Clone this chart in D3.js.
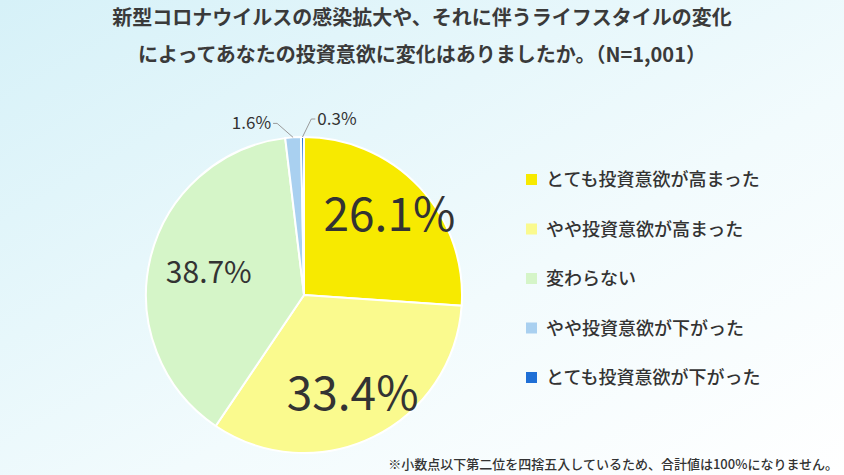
<!DOCTYPE html>
<html><head><meta charset="utf-8">
<script src="https://cdn.jsdelivr.net/npm/d3@7"></script>
<style>body{margin:0}svg{display:block}text{font-family:"Noto Sans CJK JP","Noto Sans",sans-serif}</style>
</head><body><svg id="c" width="844" height="475"></svg>
<script>
const categories=["とても投資意欲が高まった","やや投資意欲が高まった","変わらない","やや投資意欲が下がった","とても投資意欲が下がった"];
const values=[26.1,33.4,38.7,1.6,0.3];
const colors=["#f7ea00","#fafa8e","#d5f5c8","#a9d0f0","#1f6fd6"];
const svg=d3.select("#c");
const defs=svg.append("defs");
const g=defs.append("linearGradient").attr("id","bg").attr("x1","0").attr("y1","0").attr("x2","1").attr("y2","1");
g.append("stop").attr("offset","0").attr("stop-color","#d6f1f8");
g.append("stop").attr("offset","0.6").attr("stop-color","#f2fbfd");
g.append("stop").attr("offset","1").attr("stop-color","#ffffff");
svg.append("rect").attr("width",844).attr("height",475).attr("fill","url(#bg)");
svg.append("text").attr("x",422).attr("y",25).attr("text-anchor","middle").attr("font-size",20).attr("font-weight",700).attr("fill","#3a3a3a").text("新型コロナウイルスの感染拡大や、それに伴うライフスタイルの変化");
svg.append("text").attr("x",422).attr("y",62).attr("text-anchor","middle").attr("font-size",20).attr("font-weight",700).attr("fill","#3a3a3a").text("によってあなたの投資意欲に変化はありましたか。（N=1,001）");
const cx=304,cy=295,R=158;
const pie=d3.pie().sort(null)(values);
const arc=d3.arc().innerRadius(0).outerRadius(R);
const pg=svg.append("g").attr("transform",`translate(${cx},${cy})`);
pg.selectAll("path").data(pie).join("path").attr("d",arc).attr("fill",(d,i)=>colors[i]).attr("stroke","#fff").attr("stroke-width",2);
const lab=[{r:0.74,s:46},{r:0.7,s:46},{r:0.62,s:30}];
lab.forEach((l,i)=>{const a=d3.arc().innerRadius(R*l.r).outerRadius(R*l.r).centroid(pie[i]);
pg.append("text").attr("x",a[0]).attr("y",a[1]).attr("dy","0.35em").attr("text-anchor","middle").attr("font-size",l.s).attr("fill","#333").text(values[i].toFixed(1)+"%");});
[[3,-40,-14,"end"],[4,22,-18,"start"]].forEach(([i,dx,dy,anc])=>{
 const m=(pie[i].startAngle+pie[i].endAngle)/2;
 const p=[Math.sin(m)*R,-Math.cos(m)*R];
 const q=[p[0]+dx*0.4,p[1]+dy];
 pg.append("polyline").attr("points",[p,q,[q[0]+(anc=="end"?-4:4),q[1]]].map(d=>d.join(",")).join(" ")).attr("fill","none").attr("stroke","#999");
 pg.append("text").attr("x",q[0]+(anc=="end"?-6:6)).attr("y",q[1]).attr("dy","0.35em").attr("text-anchor",anc).attr("font-size",17).attr("fill","#333").text(values[i].toFixed(1)+"%");
});
const lg=svg.append("g");
categories.forEach((c,i)=>{const y=180+i*49.5;
lg.append("rect").attr("x",526).attr("y",y-6).attr("width",11).attr("height",11).attr("fill",colors[i]);
lg.append("text").attr("x",546).attr("y",y).attr("dy","0.35em").attr("font-size",18).attr("font-weight",500).attr("fill","#333").text(c);});
svg.append("text").attr("x",838).attr("y",469).attr("text-anchor","end").attr("font-size",13).attr("font-weight",500).attr("fill","#333").text("※小数点以下第二位を四捨五入しているため、合計値は100%になりません。");
</script></body></html>
